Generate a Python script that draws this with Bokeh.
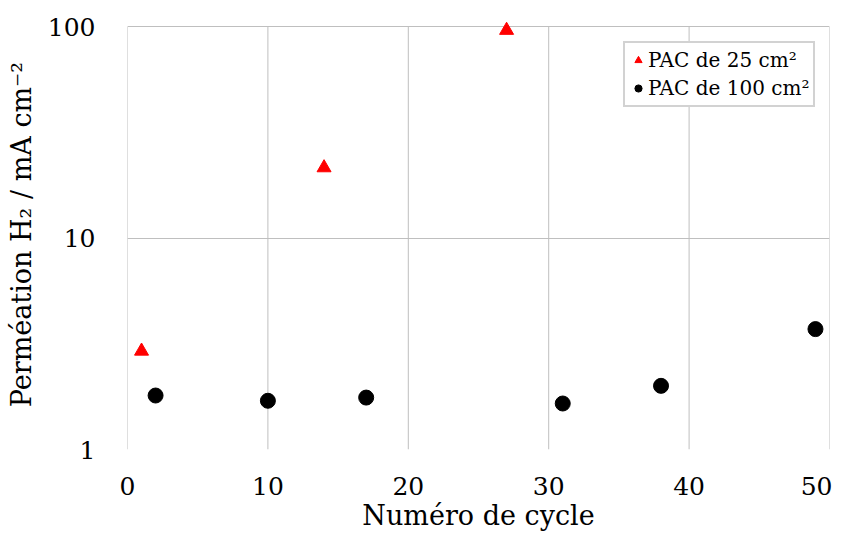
from bokeh.plotting import figure
from bokeh.models import FixedTicker, Legend, LegendItem, Range1d, CustomJSTickFormatter
from bokeh.embed import file_html
from bokeh.resources import INLINE

# Data
x_25 = [1, 14, 27]
y_25 = [2.92, 21.5, 96]
x_100 = [2, 10, 17, 31, 38, 49]
y_100 = [1.80, 1.70, 1.76, 1.65, 2.0, 3.71]
label_25 = "PAC de 25 cm²"
label_100 = "PAC de 100 cm²"
x_ticks = [0, 10, 20, 30, 40, 50]
y_ticks = [1, 10, 100]
y_min, y_max = 1, 100

FONT = "DejaVu Serif"
GRAY = "#bfbfbf"

p = figure(width=832, height=533, y_axis_type="log",
           x_range=Range1d(0, 50), y_range=Range1d(1, 108),
           output_backend="svg", toolbar_location=None,
           min_border_left=127, min_border_right=3,
           min_border_top=19, min_border_bottom=82)

# vertical grid lines limited to the 1..100 box
p.segment(x0=x_ticks, y0=[y_min] * len(x_ticks), x1=x_ticks, y1=[y_max] * len(x_ticks),
          line_color=GRAY, line_width=1)

r1 = p.scatter(x_25, y_25, marker="triangle", size=14, color="#ff0000")
r2 = p.scatter(x_100, y_100, marker="circle", size=15, color="#000000")

p.xaxis.ticker = FixedTicker(ticks=x_ticks)
p.yaxis.ticker = FixedTicker(ticks=y_ticks)
p.yaxis.formatter = CustomJSTickFormatter(code="return String(tick);")

for ax in (p.xaxis, p.yaxis):
    ax.axis_line_color = None
    ax.major_tick_line_color = None
    ax.minor_tick_line_color = None
    ax.major_label_text_font = FONT
    ax.major_label_text_font_size = "25px"
    ax.major_label_text_color = "#000000"
    ax.axis_label_text_font = FONT
    ax.axis_label_text_font_size = "27px"
    ax.axis_label_text_font_style = "normal"
    ax.axis_label_text_color = "#000000"

p.xaxis.axis_label = "Numéro de cycle"
p.yaxis.axis_label = "Perméation H₂ / mA cm⁻²"
p.xaxis.major_label_standoff = 21
p.yaxis.major_label_standoff = 26
p.xaxis.axis_label_standoff = 2
p.yaxis.axis_label_standoff = 8

p.xgrid.grid_line_color = None
p.ygrid.grid_line_color = GRAY
p.ygrid.minor_grid_line_color = None
p.outline_line_color = None

legend = Legend(items=[LegendItem(label=label_25, renderers=[r1]),
                       LegendItem(label=label_100, renderers=[r2])],
                location=(496, 342))
legend.margin = 0
legend.label_text_font = FONT
legend.label_text_font_size = "20px"
legend.label_text_color = "#000000"
legend.border_line_color = "#a6a6a6"
legend.border_line_width = 2
legend.glyph_width = 18
legend.glyph_height = 26
legend.label_standoff = 1
legend.padding = 4
legend.spacing = 2
legend.background_fill_alpha = 1.0
p.add_layout(legend)

open("out.html", "w").write(file_html(p, INLINE))
